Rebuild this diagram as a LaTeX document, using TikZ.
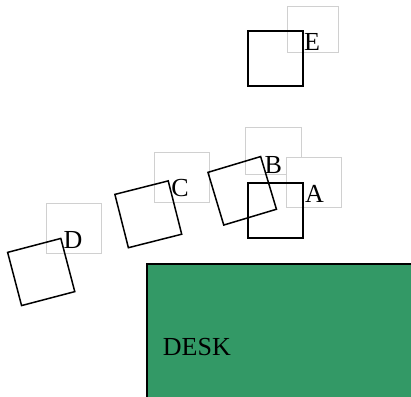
\documentclass[tikz,border=0pt]{standalone}
\usepackage{fontspec}
\setmainfont{Liberation Serif}
\definecolor{deskgreen}{HTML}{339966}
\definecolor{boxgray}{HTML}{D0D0D0}
\begin{document}
\begin{tikzpicture}[x=1pt,y=-1pt,
  lbox/.style={draw=boxgray,fill=white,line width=0.8pt},
  sqa/.style={draw=black,line width=2pt,minimum size=55pt,inner sep=0pt,outer sep=0pt},
  sqr/.style={draw=black,line width=1.5pt,minimum size=55pt,inner sep=0pt,outer sep=0pt},
  lbl/.style={anchor=base west,inner sep=0pt,font=\fontsize{26}{30}\selectfont}]
\useasboundingbox (0,0) rectangle (411,396);
% label boxes
\draw[lbox] (245,127.3) rectangle (301.7,174);
\draw[lbox] (286.7,157.3) rectangle (341.7,207.3);
\draw[lbox] (287.3,6) rectangle (338.3,52.7);
\draw[lbox] (154,152.3) rectangle (209,202.7);
\draw[lbox] (46.7,203.3) rectangle (101.7,253.3);
% squares
\node[sqa] (sqE) at (275.3,58.2) {};
\node[sqa] (sqA) at (275.3,210) {};
\node[sqr,rotate=16.7] (sqB) at (242.2,190.8) {};
\node[sqr,rotate=14.2] (sqC) at (148.3,214.3) {};
\node[sqr,rotate=14.7] (sqD) at (41.2,272) {};
% labels
\node[lbl] (lE) at (304,50) {E};
\node[lbl] (lA) at (305,202.7) {A};
\node[lbl] (lB) at (264.3,173.3) {B};
\node[lbl] (lC) at (171.2,196) {C};
\node[lbl] (lD) at (63.3,248.3) {D};
% desk
\draw[fill=deskgreen,draw=black,line width=2pt] (147,264) rectangle (414,399);
\node[lbl] (desk) at (162.7,355) {DESK};
\end{tikzpicture}
\end{document}
